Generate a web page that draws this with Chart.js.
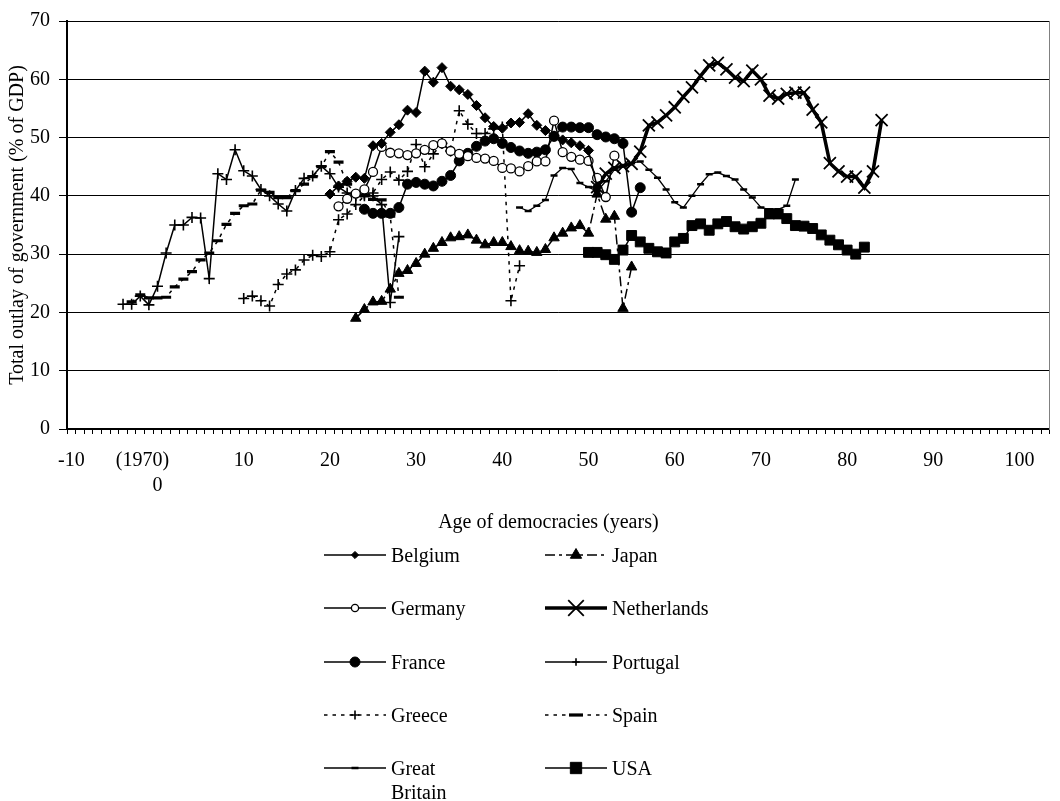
<!DOCTYPE html>
<html>
<head>
<meta charset="utf-8">
<script src="https://cdn.jsdelivr.net/npm/chart.js@4.4.1/dist/chart.umd.min.js"></script>
<style>
  html, body { margin: 0; padding: 0; background: #fff; }
  #wrap { position: relative; width: 1060px; height: 801px; overflow: hidden; }
  #c { position: absolute; left: 0; top: 0; }
  #legend { position: absolute; left: 0; top: 0; width: 1060px; height: 801px;
            font-family: "Liberation Serif", "Times New Roman", serif; font-size: 20px; color: #000; }
  .item { position: absolute; display: flex; align-items: flex-start; line-height: 24px; }
  .item canvas { display: block; flex: none; }
  .item span { margin-left: 5px; }
</style>
</head>
<body>
<div id="wrap">
  <canvas id="c" width="1060" height="545"></canvas>
  <div id="legend"></div>
</div>
<script>
// Age of democracy (years) at which each series begins, and the yearly values (% of GDP)
const belgiumStart = 20;
const belgium = [40.3, 41.7, 42.5, 43.2, 43.0, 48.6, 49.0, 50.9, 52.2, 54.7, 54.3, 61.4, 59.5, 62.0, 58.8, 58.2,
  57.4, 55.5, 53.4, 51.9, 51.6, 52.5, 52.6, 54.1, 52.1, 51.2, 50.3, 49.6, 49.1, 48.6, 47.8, 41.5];

const germanyStart = 21;
const germany = [38.2, 39.5, 40.4, 41.1, 44.1, 48.4, 47.4, 47.3, 47.0, 47.3, 47.9, 48.7, 49.0, 47.7, 47.2, 46.8,
  46.5, 46.4, 46.0, 44.8, 44.7, 44.2, 45.1, 45.9, 45.9, 52.9, 47.5, 46.7, 46.2, 46.0, 43.1, 39.8, 46.9];

const franceStart = 24;
const france = [37.7, 37.0, 37.0, 37.0, 38.0, 42.0, 42.3, 42.0, 41.7, 42.5, 43.5, 46.0, 47.3, 48.5, 49.4, 49.8,
  49.0, 48.3, 47.7, 47.3, 47.5, 47.9, 50.2, 51.8, 51.8, 51.7, 51.7, 50.5, 50.1, 49.8, 49.0, 37.2, 41.4];

const greeceStart = 10;
const greece = [22.4, 22.8, 22.0, 21.1, 24.8, 26.6, 27.3, 29.0, 29.8, 29.6, 30.4, 35.9, 36.9, 38.5, 40.0, 40.5,
  42.8, 44.1, 42.7, 44.2, 48.8, 45.0, 47.2, 49.0, 47.7, 54.6, 52.3, 50.7, 50.7, 51.5, 51.8, 22.0, 28.0];

const greatBritainStart = 42;
const greatBritain = [38.0, 37.4, 38.3, 39.3, 43.5, 44.8, 44.6, 42.2, 41.5, 40.8, 42.5, 44.5, 45.3, 45.6, 45.9,
  44.5, 43.1, 41.1, 38.9, 38.0, 40.0, 42.0, 43.7, 44.0, 43.4, 42.8, 41.1, 39.7, 38.0, 37.7, 37.7, 38.3, 42.8];

const japanStart = 23;
const japan = [19.0, 20.5, 21.8, 21.9, 24.0, 26.7, 27.2, 28.4, 30.0, 31.0, 32.0, 32.8, 33.0, 33.3, 32.4, 31.6,
  32.0, 32.0, 31.3, 30.6, 30.5, 30.3, 30.8, 32.8, 33.6, 34.5, 34.9, 33.6, 40.3, 36.0, 36.5, 20.7, 27.8];

const netherlandsStart = 51;
const netherlands = [41.5, 43.8, 44.8, 45.1, 45.5, 47.6, 52.1, 52.6, 53.8, 55.2, 57.0, 58.6, 60.6, 62.4, 62.8,
  61.7, 60.3, 59.7, 61.5, 60.0, 57.2, 56.7, 57.5, 57.7, 57.7, 54.8, 52.6, 45.6, 44.2, 43.3, 43.3, 41.4, 44.2, 53.0];

const portugalStart = -4;
const portugal = [21.4, 21.4, 22.8, 21.3, 24.5, 30.2, 35.0, 35.0, 36.3, 36.2, 25.8, 43.8, 42.8, 47.9, 44.3, 43.4,
  41.1, 40.0, 38.6, 37.4, 40.9, 43.0, 43.4, 45.1, 43.8, 41.5, 40.5, 40.0, 40.3, 40.0, 38.5, 21.7, 33.0];

const spainStart = -3;
const spain = [21.8, 23.0, 22.5, 22.5, 22.6, 24.4, 25.7, 27.0, 29.0, 30.2, 32.3, 35.1, 37.0, 38.3, 38.6, 41.0,
  40.6, 39.7, 39.7, 40.9, 42.0, 43.3, 45.0, 47.6, 45.8, 42.0, 40.5, 40.0, 39.4, 39.3, 36.5, 22.6];

const usaStart = 50;
const usa = [30.3, 30.3, 29.9, 29.1, 30.7, 33.2, 32.1, 31.0, 30.4, 30.2, 32.1, 32.7, 34.9, 35.2, 34.1, 35.2,
  35.6, 34.7, 34.3, 34.7, 35.3, 36.9, 36.9, 36.1, 34.9, 34.8, 34.4, 33.3, 32.4, 31.6, 30.7, 30.0, 31.2];

// Axis range and labelled ages
const ageMin = -10;
const ageMax = 103;
const yTicks = [0, 10, 20, 30, 40, 50, 60, 70];

const FONT = '"Liberation Serif", "Times New Roman", serif';

// Line and marker appearance for each country (legendRadius: marker size in the key)
const series = [
  { label: 'Belgium',       start: belgiumStart,      values: belgium,      pointStyle: 'rectRot',  radius: 5,   legendRadius: 3.6, fill: '#000', pbw: 1,   bw: 1.5, dash: [] },
  { label: 'Germany',       start: germanyStart,      values: germany,      pointStyle: 'circle',   radius: 4.5, legendRadius: 3.6, fill: '#fff', pbw: 1.3, bw: 1.5, dash: [] },
  { label: 'France',        start: franceStart,       values: france,       pointStyle: 'circle',   radius: 5,   legendRadius: 5,   fill: '#000', pbw: 1,   bw: 1.5, dash: [] },
  { label: 'Greece',        start: greeceStart,       values: greece,       pointStyle: 'cross',    radius: 5.5, legendRadius: 4.5, fill: '#000', pbw: 1.6, bw: 1.5, dash: [3.5, 5] },
  { label: ['Great', 'Britain'], start: greatBritainStart, values: greatBritain, pointStyle: 'line', radius: 3.5, legendRadius: 3.5, fill: '#000', pbw: 2.5, bw: 1.3, dash: [] },
  { label: 'Japan',         start: japanStart,        values: japan,        pointStyle: 'triangle', radius: 6,   legendRadius: 6.5, fill: '#000', pbw: 1,   bw: 1.5, dash: [10, 4, 3, 4] },
  { label: 'Netherlands',   start: netherlandsStart,  values: netherlands,  pointStyle: 'crossRot', radius: 8.5, legendRadius: 11,  fill: '#000', pbw: 1.8, bw: 3.5, dash: [] },
  { label: 'Portugal',      start: portugalStart,     values: portugal,     pointStyle: 'cross',    radius: 5.5, legendRadius: 3.8, fill: '#000', pbw: 1.6, bw: 1.5, dash: [] },
  { label: 'Spain',         start: spainStart,        values: spain,        pointStyle: 'line',     radius: 5,   legendRadius: 7,   fill: '#000', pbw: 3.2, bw: 1.5, dash: [3.5, 5] },
  { label: 'USA',           start: usaStart,          values: usa,          pointStyle: 'rect',     radius: 7,   legendRadius: 8,   fill: '#000', pbw: 1,   bw: 1.5, dash: [] }
];

const datasets = series.map(s => ({
  label: Array.isArray(s.label) ? s.label.join(' ') : s.label,
  data: s.values.map((v, i) => ({ x: s.start + i, y: v })),
  borderColor: '#000',
  backgroundColor: s.fill,
  borderWidth: s.bw,
  borderDash: s.dash,
  tension: 0,
  fill: false,
  pointStyle: s.pointStyle,
  pointRadius: s.radius,
  pointHoverRadius: s.radius,
  pointBackgroundColor: s.fill,
  pointBorderColor: '#000',
  pointBorderWidth: s.pbw,
  pointHoverBorderWidth: s.pbw
}));

Chart.defaults.font.family = FONT;
Chart.defaults.font.size = 20;
Chart.defaults.color = '#000';

const chart = new Chart(document.getElementById('c'), {
  type: 'line',
  data: { datasets },
  options: {
    responsive: false,
    animation: false,
    devicePixelRatio: 1,
    events: [],
    layout: { padding: { left: 0, right: 3, top: 14, bottom: 0 } },
    plugins: { legend: { display: false }, tooltip: { enabled: false } },
    scales: {
      x: {
        type: 'linear',
        position: 'bottom',
        min: ageMin - 0.5,
        max: ageMax + 0.5,
        afterBuildTicks: scale => {
          const t = [];
          for (let v = ageMin; v <= ageMax; v++) t.push({ value: v });
          scale.ticks = t;
        },
        afterFit: scale => { scale.height = 116; },
        ticks: {
          autoSkip: false,
          maxRotation: 0,
          minRotation: 0,
          padding: 14,
          font: { size: 20, lineHeight: 1.25 },
          callback: v => {
            if (v % 10 !== 0) return '';
            if (v === 0) return ['(1970)      ', '0'];
            return String(v);
          }
        },
        grid: { display: true, drawOnChartArea: false, drawTicks: true, tickLength: 5, offset: true, color: '#000', lineWidth: 1 },
        border: { display: true, color: '#000', width: 2 },
        title: { display: true, text: 'Age of democracies (years)    ', font: { size: 20, lineHeight: 1.2 }, padding: { top: 0, bottom: 10 } }
      },
      y: {
        type: 'linear',
        position: 'left',
        min: 0,
        max: 70,
        afterBuildTicks: scale => { scale.ticks = yTicks.map(v => ({ value: v })); },
        afterFit: scale => { scale.width = 67; },
        ticks: { padding: 9, font: { size: 20 } },
        grid: { color: '#000', lineWidth: 1, drawTicks: true, tickLength: 8 },
        border: { display: true, color: '#000', width: 2 },
        title: { display: true, text: 'Total outlay of government (% of GDP)', font: { size: 20, lineHeight: 1.2 }, padding: { top: 6, bottom: 0 } }
      },
      yFrame: {
        type: 'linear',
        position: 'right',
        min: 0,
        max: 70,
        afterFit: scale => { scale.width = 0; },
        ticks: { display: false },
        grid: { display: true, drawOnChartArea: false, drawTicks: false },
        border: { display: true, color: '#808080', width: 1 }
      }
    }
  }
});

// Legend: two columns, line sample with marker followed by the country name
const legendBox = document.getElementById('legend');
const rowY = [555, 608, 662, 715, 768];
const cols = [{ sample: 324, width: 90 }, { sample: 545, width: 160 }];
series.forEach((s, i) => {
  const col = cols[Math.floor(i / 5)];
  const item = document.createElement('div');
  item.className = 'item';
  item.style.left = col.sample + 'px';
  item.style.top = (rowY[i % 5] - 12) + 'px';
  const cv = document.createElement('canvas');
  cv.width = 62; cv.height = 24;
  const ctx = cv.getContext('2d');
  ctx.strokeStyle = '#000';
  ctx.lineWidth = s.bw >= 3 ? s.bw : 1.6;
  ctx.setLineDash(s.dash);
  ctx.beginPath();
  ctx.moveTo(0, 12); ctx.lineTo(62, 12);
  ctx.stroke();
  ctx.setLineDash([]);
  ctx.fillStyle = s.fill;
  ctx.lineWidth = s.pbw;
  Chart.helpers.drawPoint(ctx, { pointStyle: s.pointStyle, radius: s.legendRadius, borderWidth: s.pbw, rotation: 0 }, 31, 12);
  const span = document.createElement('span');
  span.style.width = col.width + 'px';
  if (Array.isArray(s.label)) {
    span.innerHTML = s.label.join('<br>');
  } else {
    span.textContent = s.label;
  }
  item.appendChild(cv);
  item.appendChild(span);
  legendBox.appendChild(item);
});
</script>
</body>
</html>
